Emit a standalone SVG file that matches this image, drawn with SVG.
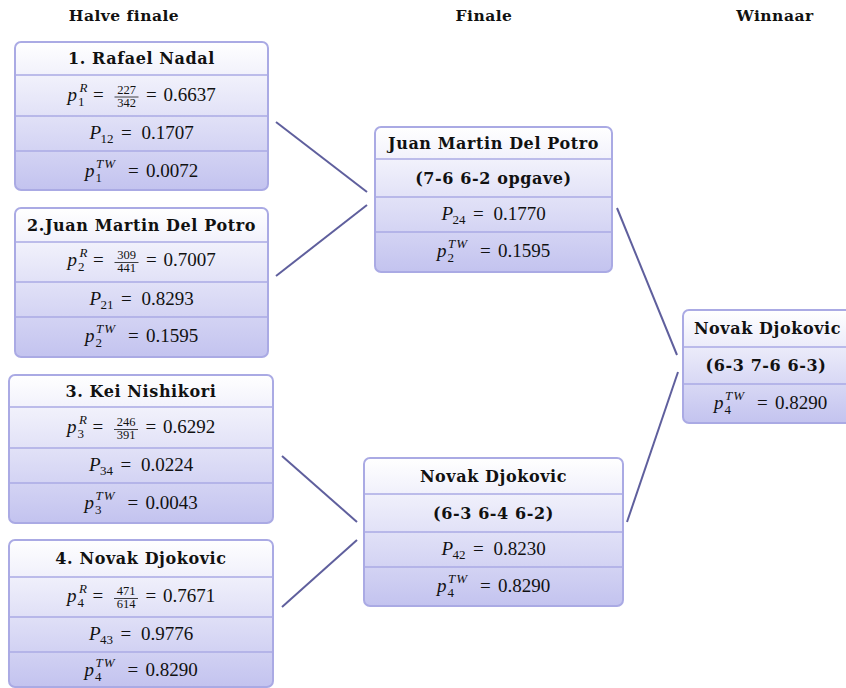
<svg xmlns="http://www.w3.org/2000/svg" width="846" height="688" viewBox="0 0 846 688">
<defs>
<linearGradient id="g" x1="0" y1="0" x2="0" y2="1">
<stop offset="0" stop-color="#ffffff"/>
<stop offset="1" stop-color="#c3c3ef"/>
</linearGradient>
<style>
.box{fill:url(#g);stroke:#aaaae4;stroke-width:2}
.dv{stroke:#aaaae4;stroke-width:1.5}
.h{font-family:"DejaVu Serif",serif;font-weight:bold;font-size:15.5px;letter-spacing:0.5px;text-anchor:middle;fill:#111}
.t{font-family:"DejaVu Serif",serif;font-weight:bold;font-size:16px;letter-spacing:0.6px;text-anchor:middle;fill:#111}
.m{font-family:"Liberation Serif",serif;font-size:19px;fill:#111}
.i{font-style:italic}
.s{font-size:13px}
.f{font-size:12.5px;text-anchor:middle}
.bar{stroke:#111;stroke-width:0.8}
.conn{stroke:#5f5f9d;stroke-width:2;fill:none}
</style>
</defs>

<g id="headers">
<text class="h" x="124" y="21">Halve finale</text>
<text class="h" x="484" y="21">Finale</text>
<text class="h" x="775" y="21">Winnaar</text>
</g>

<g id="connectors">
<line class="conn" x1="276" y1="122" x2="367" y2="192"/>
<line class="conn" x1="367" y1="205" x2="276" y2="276"/>
<line class="conn" x1="282" y1="456" x2="357" y2="522"/>
<line class="conn" x1="357" y1="540" x2="282" y2="607"/>
<line class="conn" x1="617" y1="208" x2="677" y2="355"/>
<line class="conn" x1="627" y1="522" x2="678" y2="372"/>
</g>

<g id="sf1">
<rect class="box" x="15" y="42" width="253" height="148" rx="6"/>
<line class="dv" x1="15" y1="75" x2="268" y2="75"/>
<line class="dv" x1="15" y1="116" x2="268" y2="116"/>
<line class="dv" x1="15" y1="151" x2="268" y2="151"/>
<text class="t" x="141.5" y="64">1. Rafael Nadal</text>
<g transform="translate(67.5,100.5)">
<text class="m i" x="0" y="0">p</text><text class="m i s" x="12" y="-9">R</text><text class="m s" x="10.5" y="5">1</text>
<text class="m" x="25.5" y="0">=</text>
<text class="m f" x="59" y="-7">227</text><line class="bar" x1="47" y1="-3.5" x2="71" y2="-3.5"/><text class="m f" x="59" y="6">342</text>
<text class="m" x="78.5" y="0">=</text><text class="m" x="96" y="0">0.6637</text>
</g>
<g transform="translate(89.5,138.5)">
<text class="m i" x="0" y="0">P</text><text class="m s" x="11" y="4">12</text>
<text class="m" x="31.5" y="0">=</text><text class="m" x="52" y="0">0.1707</text>
</g>
<g transform="translate(85,176.5)">
<text class="m i" x="0" y="0">p</text><text class="m i s" x="11" y="-9" letter-spacing="1">TW</text><text class="m s" x="10.5" y="5">1</text>
<text class="m" x="43" y="0">=</text><text class="m" x="61" y="0">0.0072</text>
</g>
</g>

<g id="sf2">
<rect class="box" x="15" y="208" width="253" height="149" rx="6"/>
<line class="dv" x1="15" y1="242" x2="268" y2="242"/>
<line class="dv" x1="15" y1="282" x2="268" y2="282"/>
<line class="dv" x1="15" y1="317" x2="268" y2="317"/>
<text class="t" x="141.5" y="230.5">2.Juan Martin Del Potro</text>
<g transform="translate(67.5,266)">
<text class="m i" x="0" y="0">p</text><text class="m i s" x="12" y="-9">R</text><text class="m s" x="10.5" y="5">2</text>
<text class="m" x="25.5" y="0">=</text>
<text class="m f" x="59" y="-7">309</text><line class="bar" x1="47" y1="-3.5" x2="71" y2="-3.5"/><text class="m f" x="59" y="6">441</text>
<text class="m" x="78.5" y="0">=</text><text class="m" x="96" y="0">0.7007</text>
</g>
<g transform="translate(89.5,304.5)">
<text class="m i" x="0" y="0">P</text><text class="m s" x="11" y="4">21</text>
<text class="m" x="31.5" y="0">=</text><text class="m" x="52" y="0">0.8293</text>
</g>
<g transform="translate(85,341.5)">
<text class="m i" x="0" y="0">p</text><text class="m i s" x="11" y="-9" letter-spacing="1">TW</text><text class="m s" x="10.5" y="5">2</text>
<text class="m" x="43" y="0">=</text><text class="m" x="61" y="0">0.1595</text>
</g>
</g>

<g id="sf3">
<rect class="box" x="9" y="375" width="264" height="148" rx="6"/>
<line class="dv" x1="9" y1="407" x2="273" y2="407"/>
<line class="dv" x1="9" y1="448" x2="273" y2="448"/>
<line class="dv" x1="9" y1="483" x2="273" y2="483"/>
<text class="t" x="141" y="396.5">3. Kei Nishikori</text>
<g transform="translate(67,433)">
<text class="m i" x="0" y="0">p</text><text class="m i s" x="12" y="-9">R</text><text class="m s" x="10.5" y="5">3</text>
<text class="m" x="25.5" y="0">=</text>
<text class="m f" x="59" y="-7">246</text><line class="bar" x1="47" y1="-3.5" x2="71" y2="-3.5"/><text class="m f" x="59" y="6">391</text>
<text class="m" x="78.5" y="0">=</text><text class="m" x="96" y="0">0.6292</text>
</g>
<g transform="translate(89,470.5)">
<text class="m i" x="0" y="0">P</text><text class="m s" x="11" y="4">34</text>
<text class="m" x="31.5" y="0">=</text><text class="m" x="52" y="0">0.0224</text>
</g>
<g transform="translate(84.5,508.5)">
<text class="m i" x="0" y="0">p</text><text class="m i s" x="11" y="-9" letter-spacing="1">TW</text><text class="m s" x="10.5" y="5">3</text>
<text class="m" x="43" y="0">=</text><text class="m" x="61" y="0">0.0043</text>
</g>
</g>

<g id="sf4">
<rect class="box" x="9" y="540" width="264" height="147" rx="6"/>
<line class="dv" x1="9" y1="577" x2="273" y2="577"/>
<line class="dv" x1="9" y1="617" x2="273" y2="617"/>
<line class="dv" x1="9" y1="652" x2="273" y2="652"/>
<text class="t" x="141" y="564">4. Novak Djokovic</text>
<g transform="translate(67,602)">
<text class="m i" x="0" y="0">p</text><text class="m i s" x="12" y="-9">R</text><text class="m s" x="10.5" y="5">4</text>
<text class="m" x="25.5" y="0">=</text>
<text class="m f" x="59" y="-7">471</text><line class="bar" x1="47" y1="-3.5" x2="71" y2="-3.5"/><text class="m f" x="59" y="6">614</text>
<text class="m" x="78.5" y="0">=</text><text class="m" x="96" y="0">0.7671</text>
</g>
<g transform="translate(89,639.5)">
<text class="m i" x="0" y="0">P</text><text class="m s" x="11" y="4">43</text>
<text class="m" x="31.5" y="0">=</text><text class="m" x="52" y="0">0.9776</text>
</g>
<g transform="translate(84.5,675.5)">
<text class="m i" x="0" y="0">p</text><text class="m i s" x="11" y="-9" letter-spacing="1">TW</text><text class="m s" x="10.5" y="5">4</text>
<text class="m" x="43" y="0">=</text><text class="m" x="61" y="0">0.8290</text>
</g>
</g>

<g id="f1">
<rect class="box" x="375" y="127" width="237" height="145" rx="6"/>
<line class="dv" x1="375" y1="159" x2="612" y2="159"/>
<line class="dv" x1="375" y1="197" x2="612" y2="197"/>
<line class="dv" x1="375" y1="232" x2="612" y2="232"/>
<text class="t" x="493.5" y="148.5">Juan Martin Del Potro</text>
<text class="t" x="493.5" y="183.5">(7-6 6-2 opgave)</text>
<g transform="translate(441.5,219.5)">
<text class="m i" x="0" y="0">P</text><text class="m s" x="11" y="4">24</text>
<text class="m" x="31.5" y="0">=</text><text class="m" x="52" y="0">0.1770</text>
</g>
<g transform="translate(437,257)">
<text class="m i" x="0" y="0">p</text><text class="m i s" x="11" y="-9" letter-spacing="1">TW</text><text class="m s" x="10.5" y="5">2</text>
<text class="m" x="43" y="0">=</text><text class="m" x="61" y="0">0.1595</text>
</g>
</g>

<g id="f2">
<rect class="box" x="364" y="458" width="259" height="148" rx="6"/>
<line class="dv" x1="364" y1="494" x2="623" y2="494"/>
<line class="dv" x1="364" y1="532" x2="623" y2="532"/>
<line class="dv" x1="364" y1="567" x2="623" y2="567"/>
<text class="t" x="493.5" y="481.5">Novak Djokovic</text>
<text class="t" x="493.5" y="518.5">(6-3 6-4 6-2)</text>
<g transform="translate(441.5,554.5)">
<text class="m i" x="0" y="0">P</text><text class="m s" x="11" y="4">42</text>
<text class="m" x="31.5" y="0">=</text><text class="m" x="52" y="0">0.8230</text>
</g>
<g transform="translate(437,591.5)">
<text class="m i" x="0" y="0">p</text><text class="m i s" x="11" y="-9" letter-spacing="1">TW</text><text class="m s" x="10.5" y="5">4</text>
<text class="m" x="43" y="0">=</text><text class="m" x="61" y="0">0.8290</text>
</g>
</g>

<g id="winner">
<rect class="box" x="683" y="310" width="170" height="113" rx="6"/>
<line class="dv" x1="683" y1="347" x2="853" y2="347"/>
<line class="dv" x1="683" y1="384" x2="853" y2="384"/>
<text class="t" x="767.5" y="334">Novak Djokovic</text>
<text class="t" x="766" y="371">(6-3 7-6 6-3)</text>
<g transform="translate(714,409)">
<text class="m i" x="0" y="0">p</text><text class="m i s" x="11" y="-9" letter-spacing="1">TW</text><text class="m s" x="10.5" y="5">4</text>
<text class="m" x="43" y="0">=</text><text class="m" x="61" y="0">0.8290</text>
</g>
</g>
</svg>
